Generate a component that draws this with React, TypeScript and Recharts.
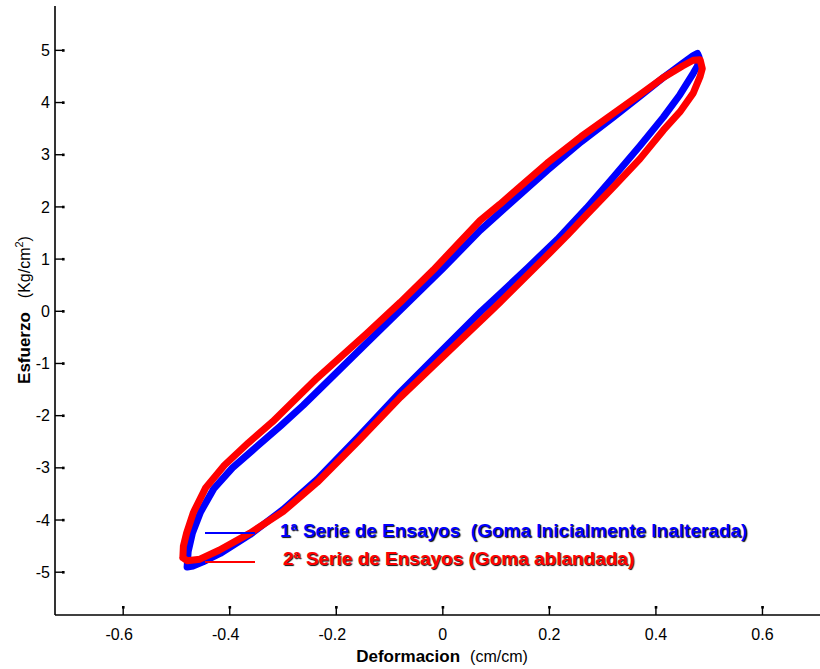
import React from 'react';
import { LineChart, Line, XAxis, YAxis, Legend, Label } from 'recharts';

// Tick labels
const xTicks = [-0.6, -0.4, -0.2, 0, 0.2, 0.4, 0.6];
const yTicks = [-5, -4, -3, -2, -1, 0, 1, 2, 3, 4, 5];

// Series names
const seriesNames = [
  '1ª Serie de Ensayos  (Goma Inicialmente Inalterada)',
  '2ª Serie de Ensayos (Goma ablandada)',
];

// 1ª serie (blue): [deformacion, esfuerzo]
const blueUpper: [number, number][] = [
  [-0.480, -4.90], [-0.478, -4.60], [-0.470, -4.25], [-0.455, -3.85], [-0.430, -3.40],
  [-0.395, -3.00], [-0.350, -2.60], [-0.305, -2.20], [-0.262, -1.80], [-0.217, -1.35],
  [-0.142, -0.60], [-0.082, 0.00], [0.000, 0.82], [0.070, 1.55], [0.119, 2.00],
  [0.196, 2.70], [0.260, 3.25], [0.320, 3.72], [0.370, 4.12], [0.414, 4.48],
  [0.450, 4.75], [0.470, 4.90], [0.478, 4.94],
];
const blueLower: [number, number][] = [
  [0.481, 4.87], [0.478, 4.70], [0.470, 4.56], [0.445, 4.15], [0.414, 3.72],
  [0.370, 3.17], [0.320, 2.57], [0.270, 1.98], [0.215, 1.38], [0.160, 0.84],
  [0.107, 0.33], [0.072, 0.00], [0.000, -0.73], [-0.080, -1.55], [-0.160, -2.42],
  [-0.236, -3.22], [-0.300, -3.80], [-0.362, -4.28], [-0.418, -4.64], [-0.450, -4.80],
  [-0.469, -4.88], [-0.480, -4.90],
];

// 2ª serie (red): [deformacion, esfuerzo]
const redUpper: [number, number][] = [
  [-0.488, -4.72], [-0.487, -4.50], [-0.481, -4.25], [-0.468, -3.85], [-0.445, -3.38],
  [-0.410, -2.95], [-0.365, -2.52], [-0.320, -2.12], [-0.280, -1.72], [-0.236, -1.28],
  [-0.142, -0.42], [-0.080, 0.17], [-0.018, 0.79], [0.070, 1.74], [0.107, 2.05],
  [0.196, 2.84], [0.260, 3.35], [0.320, 3.79], [0.370, 4.15], [0.414, 4.48],
  [0.450, 4.70], [0.470, 4.81], [0.483, 4.82],
];
const redLower: [number, number][] = [
  [0.487, 4.65], [0.483, 4.50], [0.470, 4.18], [0.445, 3.82], [0.414, 3.47],
  [0.370, 2.92], [0.320, 2.38], [0.270, 1.85], [0.233, 1.45], [0.201, 1.12],
  [0.107, 0.17], [0.090, 0.00], [-0.018, -1.05], [-0.080, -1.65], [-0.160, -2.50],
  [-0.236, -3.28], [-0.300, -3.84], [-0.362, -4.25], [-0.420, -4.58], [-0.456, -4.75],
  [-0.480, -4.78], [-0.488, -4.72],
];

const toData = (pts: [number, number][]) => pts.map(([x, y]) => ({ x, y }));
const blueData = toData([...blueUpper, ...blueLower]);
const redData = toData([...redUpper, ...redLower]);

const FONT = '"Liberation Sans", Arial, Helvetica, sans-serif';
const BLUE = '#0000ff';
const RED = '#ff0000';

const YTick = (props: any) => {
  const { x, y, payload } = props;
  return (
    <g>
      <line x1={x} x2={x + 9} y1={y} y2={y} stroke="#000" strokeWidth={1.4} />
      <rect x={x + 7} y={y - 1.2} width={2.6} height={2.6} fill="#000" />
      <text x={x - 5} y={y} dy={5.6} textAnchor="end" fontSize={16} fontFamily={FONT} fill="#000">
        {String(payload.value)}
      </text>
    </g>
  );
};

const XTick = (props: any) => {
  const { x, y, payload } = props;
  const v = payload.value as number;
  return (
    <g>
      <line x1={x} x2={x} y1={y} y2={y - 9} stroke="#000" strokeWidth={1.4} />
      <rect x={x - 1.2} y={y - 9} width={2.6} height={2.6} fill="#000" />
      <text x={x + (v < 0 ? -4 : 0)} y={y + 25} textAnchor="middle" fontSize={16} fontFamily={FONT} fill="#000">
        {String(v)}
      </text>
    </g>
  );
};

const YLabel = () => (
  <text
    x={30}
    y={310}
    transform="rotate(-90 30 310)"
    textAnchor="middle"
    fontFamily={FONT}
    fill="#000"
  >
    <tspan fontWeight="bold" fontSize={17}>Esfuerzo</tspan>
    <tspan fontSize={16} dx={14}>(Kg/cm</tspan>
    <tspan fontSize={11} dy={-7}>2</tspan>
    <tspan fontSize={16} dy={7}>)</tspan>
  </text>
);

const XLabel = () => (
  <text x={442} y={662} textAnchor="middle" fontFamily={FONT} fill="#000">
    <tspan fontWeight="bold" fontSize={17}>Deformacion</tspan>
    <tspan fontSize={16} dx={10}>(cm/cm)</tspan>
  </text>
);

const shadow = '1px 1px 1px rgba(0,0,0,0.95)';

const renderLegend = () => (
  <div style={{ position: 'relative', width: 820, height: 669, fontFamily: FONT }}>
    <div style={{ position: 'absolute', left: 205, top: 532, width: 50, height: 2, background: BLUE }} />
    <div
      style={{
        position: 'absolute', left: 280, top: 520, fontSize: 19, fontWeight: 'bold',
        color: BLUE, textShadow: shadow, whiteSpace: 'pre', lineHeight: '22px',
      }}
    >
      {seriesNames[0]}
    </div>
    <div style={{ position: 'absolute', left: 205, top: 561, width: 50, height: 2, background: RED }} />
    <div
      style={{
        position: 'absolute', left: 283, top: 548, fontSize: 19, fontWeight: 'bold',
        color: RED, textShadow: shadow, whiteSpace: 'pre', lineHeight: '22px',
      }}
    >
      {seriesNames[1]}
    </div>
  </div>
);

export default function App() {
  return (
    <div style={{ position: 'absolute', left: 0, top: 0, width: 820, height: 669, background: '#fff' }}>
      <LineChart width={820} height={669} margin={{ top: 6, right: 0, bottom: 0, left: 0 }}>
        <XAxis
          type="number"
          dataKey="x"
          domain={[-0.728, 0.708]}
          ticks={xTicks}
          allowDataOverflow
          height={54}
          tickSize={0}
          tickMargin={0}
          tick={<XTick />}
          axisLine={{ stroke: '#000', strokeWidth: 1.6 }}
          tickLine={false}
        >
          <Label content={<XLabel />} />
        </XAxis>
        <YAxis
          type="number"
          dataKey="y"
          domain={[-5.82, 5.85]}
          ticks={yTicks}
          allowDataOverflow
          width={55}
          tickSize={0}
          tickMargin={0}
          tick={<YTick />}
          axisLine={{ stroke: '#000', strokeWidth: 1.6 }}
          tickLine={false}
        >
          <Label content={<YLabel />} />
        </YAxis>
        <Legend
          layout="vertical"
          align="center"
          verticalAlign="middle"
          content={renderLegend}
          wrapperStyle={{ left: 0, top: 0, width: 820, height: 669, pointerEvents: 'none' }}
        />
        <Line
          data={blueData}
          dataKey="y"
          name={seriesNames[0]}
          type="linear"
          stroke={BLUE}
          strokeWidth={7}
          strokeLinejoin="round"
          strokeLinecap="round"
          dot={false}
          activeDot={false}
          isAnimationActive={false}
        />
        <Line
          data={redData}
          dataKey="y"
          name={seriesNames[1]}
          type="linear"
          stroke={RED}
          strokeWidth={7}
          strokeLinejoin="round"
          strokeLinecap="round"
          dot={false}
          activeDot={false}
          isAnimationActive={false}
        />
      </LineChart>
    </div>
  );
}
